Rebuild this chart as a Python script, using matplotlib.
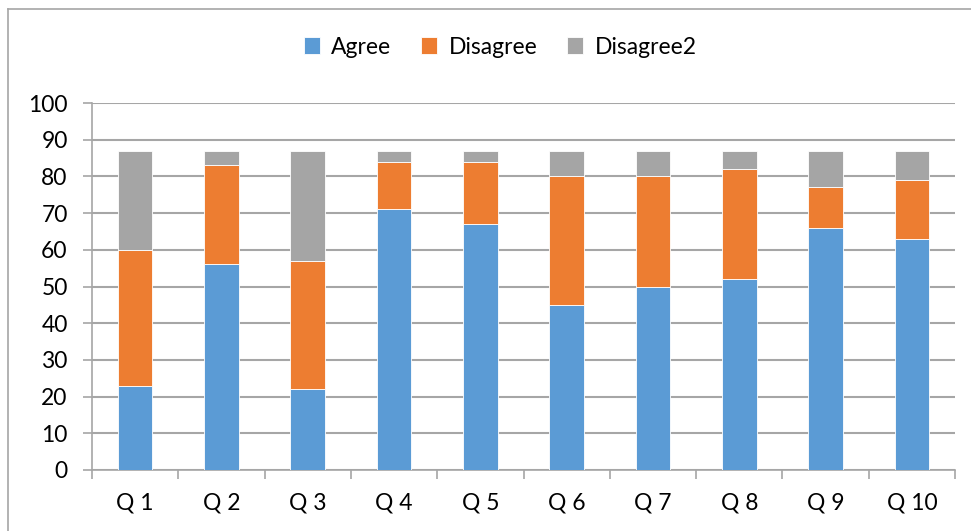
import numpy as np
import matplotlib.pyplot as plt
from matplotlib.lines import Line2D

categories = ["Q 1", "Q 2", "Q 3", "Q 4", "Q 5", "Q 6", "Q 7", "Q 8", "Q 9", "Q 10"]
agree = [23, 56, 22, 71, 67, 45, 50, 52, 66, 63]
disagree = [37, 27, 35, 13, 17, 35, 30, 30, 11, 16]
disagree2 = [27, 4, 30, 3, 3, 7, 7, 5, 10, 8]

colors = ["#5b9bd5", "#ed7d31", "#a5a5a5"]
plt.rcParams['font.family'] = ['Lato', 'DejaVu Sans']

fig = plt.figure(figsize=(9.71, 5.31), dpi=100)
ax = fig.add_axes([92 / 971, 61 / 531, 863 / 971, 367 / 531])

x = np.arange(len(categories))
agree = np.array(agree)
disagree = np.array(disagree)
disagree2 = np.array(disagree2)
w = 0.4
ax.bar(x, agree, w, color=colors[0], label="Agree", edgecolor="white", linewidth=0.6, zorder=3)
ax.bar(x, disagree, w, bottom=agree, color=colors[1], label="Disagree", edgecolor="white", linewidth=0.6, zorder=3)
ax.bar(x, disagree2, w, bottom=agree + disagree, color=colors[2], label="Disagree2", edgecolor="white", linewidth=0.6, zorder=3)

ax.set_xlim(-0.5, len(categories) - 0.5)
ax.set_ylim(0, 100)
ax.set_yticks(range(0, 101, 10))
ax.yaxis.grid(True, color="#a6a6a6", linewidth=1.5, zorder=0)
ax.set_axisbelow(True)

ax.set_xticks(x)
ax.set_xticklabels(categories)
ax.set_xticks(np.arange(-0.5, len(categories), 1), minor=True)
ax.tick_params(axis="x", which="major", length=0, pad=16, labelsize=16.5)
ax.tick_params(axis="x", which="minor", length=6.5, width=1.2, color="#a6a6a6", direction="out")
ax.tick_params(axis="y", length=6.5, width=1.2, color="#a6a6a6", labelsize=16.5, pad=11)

for s in ["top", "right"]:
    ax.spines[s].set_visible(False)
for s in ["left", "bottom"]:
    ax.spines[s].set_color("#a6a6a6")
    ax.spines[s].set_linewidth(1.2)

fig.legend(loc="center", bbox_to_anchor=(500 / 971, 1 - 47 / 531), ncol=3, frameon=False,
           fontsize=16.5, handlelength=0.7, handleheight=0.7, columnspacing=1.3, handletextpad=0.5)

# chart border (top and left visible; right/bottom run off the image)
fig.add_artist(Line2D([8 / 971, 1], [1 - 9 / 531, 1 - 9 / 531], transform=fig.transFigure,
                      color="#a6a6a6", linewidth=1.2))
fig.add_artist(Line2D([8 / 971, 8 / 971], [0, 1 - 9 / 531], transform=fig.transFigure,
                      color="#a6a6a6", linewidth=1.2))

fig.savefig("out.png", dpi=100)
